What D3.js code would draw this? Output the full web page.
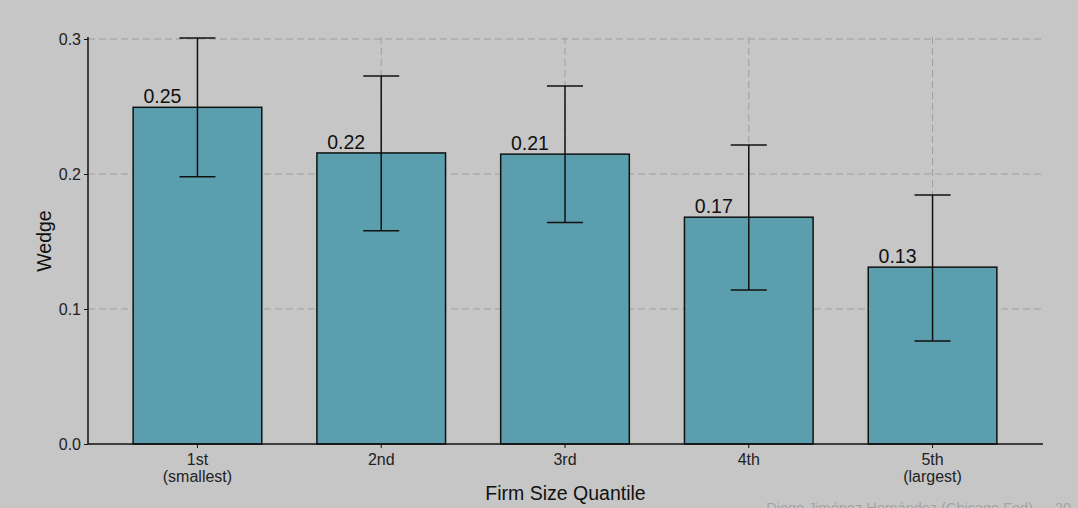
<!DOCTYPE html>
<html>
<head>
<meta charset="utf-8">
<script src="https://cdn.jsdelivr.net/npm/d3@7"></script>
<style>
  html, body { margin: 0; padding: 0; background: #c6c6c6; }
  svg { display: block; font-family: "Liberation Sans", Arial, Helvetica, sans-serif; }
</style>
</head>
<body>
<svg id="chart" width="1078" height="508"></svg>
<script>
// Wedge by firm size quantile, with confidence intervals
const categories = ["1st\n(smallest)", "2nd", "3rd", "4th", "5th\n(largest)"];
const wedge      = [0.2494, 0.2156, 0.2147, 0.1680, 0.1310];
const ciLow      = [0.1980, 0.1580, 0.1640, 0.1141, 0.0763];
const ciHigh     = [0.3007, 0.2726, 0.2652, 0.2215, 0.1844];
const yTicks     = [0.0, 0.1, 0.2, 0.3];

(function () {
const data = categories.map((c, i) => ({ cat: c, v: wedge[i], lo: ciLow[i], hi: ciHigh[i] }));

const svg = d3.select("#chart");
const W = 1078, H = 508;

svg.append("rect").attr("width", W).attr("height", H).attr("fill", "#c6c6c6");

const x = d3.scaleBand().domain(categories).range([78, 1052]).paddingInner(0.3).paddingOuter(0.3);
const y = d3.scaleLinear().domain([0, 0.3]).range([444, 39]);

const plotLeft = 88, plotRight = 1043, plotTop = 37, plotBottom = y(0);
const grid = "#9e9e9e";

// horizontal grid
svg.append("g").selectAll("line").data(yTicks.filter(t => t > 0)).join("line")
  .attr("x1", plotLeft).attr("x2", plotRight)
  .attr("y1", d => y(d)).attr("y2", d => y(d))
  .attr("stroke", grid).attr("stroke-width", 1).attr("stroke-dasharray", "7,4");

// vertical grid at category centres
svg.append("g").selectAll("line").data(categories).join("line")
  .attr("x1", d => x(d) + x.bandwidth() / 2).attr("x2", d => x(d) + x.bandwidth() / 2)
  .attr("y1", plotTop).attr("y2", plotBottom)
  .attr("stroke", grid).attr("stroke-width", 1).attr("stroke-dasharray", "7,4");

// bars
svg.append("g").selectAll("rect").data(data).join("rect")
  .attr("x", d => x(d.cat)).attr("width", x.bandwidth())
  .attr("y", d => y(d.v)).attr("height", d => y(0) - y(d.v))
  .attr("fill", "#5b9ead").attr("stroke", "#111").attr("stroke-width", 1.5);

// error bars
const capHalf = 18;
const eb = svg.append("g").attr("stroke", "#111").attr("stroke-width", 1.5);
data.forEach(d => {
  const cx = x(d.cat) + x.bandwidth() / 2;
  eb.append("line").attr("x1", cx).attr("x2", cx).attr("y1", y(d.hi)).attr("y2", y(d.lo));
  eb.append("line").attr("x1", cx - capHalf).attr("x2", cx + capHalf).attr("y1", y(d.hi)).attr("y2", y(d.hi));
  eb.append("line").attr("x1", cx - capHalf).attr("x2", cx + capHalf).attr("y1", y(d.lo)).attr("y2", y(d.lo));
});

// value labels
const fmt = d3.format(".2f");
svg.append("g").selectAll("text").data(data).join("text")
  .attr("x", d => x(d.cat) + x.bandwidth() / 2 - 35)
  .attr("y", d => y(d.v) - 4)
  .attr("text-anchor", "middle")
  .attr("font-size", 19.5).attr("fill", "#111")
  .text(d => fmt(d.v));

// y axis
const yAxis = svg.append("g").attr("transform", `translate(${plotLeft},0)`)
  .call(d3.axisLeft(y).tickValues(yTicks).tickFormat(d3.format(".1f")).tickSize(4).tickPadding(3));
yAxis.select(".domain").remove();
yAxis.selectAll(".tick line").attr("stroke", "#111");
yAxis.selectAll(".tick text").attr("font-size", 16).attr("fill", "#222").attr("font-family", "Liberation Sans, Arial, sans-serif");
svg.append("line").attr("x1", plotLeft).attr("x2", plotLeft).attr("y1", plotTop).attr("y2", plotBottom)
  .attr("stroke", "#111").attr("stroke-width", 1.5);

// x axis
const xAxis = svg.append("g").attr("transform", `translate(0,${plotBottom})`)
  .call(d3.axisBottom(x).tickSize(4).tickFormat(""));
xAxis.select(".domain").remove();
xAxis.selectAll(".tick line").attr("stroke", "#111");
xAxis.selectAll(".tick").each(function (d) {
  const lines = d.split("\n");
  const t = d3.select(this).append("text")
    .attr("fill", "#222").attr("font-size", 16).attr("text-anchor", "middle")
    .attr("font-family", "Liberation Sans, Arial, sans-serif");
  lines.forEach((s, i) => t.append("tspan").attr("x", 0).attr("y", 20.5 + i * 17.5).text(s));
});
svg.append("line").attr("x1", plotLeft).attr("x2", plotRight).attr("y1", plotBottom).attr("y2", plotBottom)
  .attr("stroke", "#111").attr("stroke-width", 1.5);

// axis titles
svg.append("text").attr("x", (plotLeft + plotRight) / 2).attr("y", 500)
  .attr("text-anchor", "middle").attr("font-size", 19.5).attr("fill", "#111")
  .text("Firm Size Quantile");
svg.append("text").attr("transform", "translate(51,241) rotate(-90)")
  .attr("text-anchor", "middle").attr("font-size", 19.5).attr("fill", "#111")
  .text("Wedge");

// footer
svg.append("text").attr("x", 1033).attr("y", 512.5).attr("text-anchor", "end")
  .attr("font-size", 14.5).attr("fill", "#a4a4a4").text("Diego Jiménez Hernández (Chicago Fed)");
svg.append("text").attr("x", 1071).attr("y", 512.5).attr("text-anchor", "end")
  .attr("font-size", 14.5).attr("fill", "#a4a4a4").text("20");
})();
</script>
</body>
</html>
